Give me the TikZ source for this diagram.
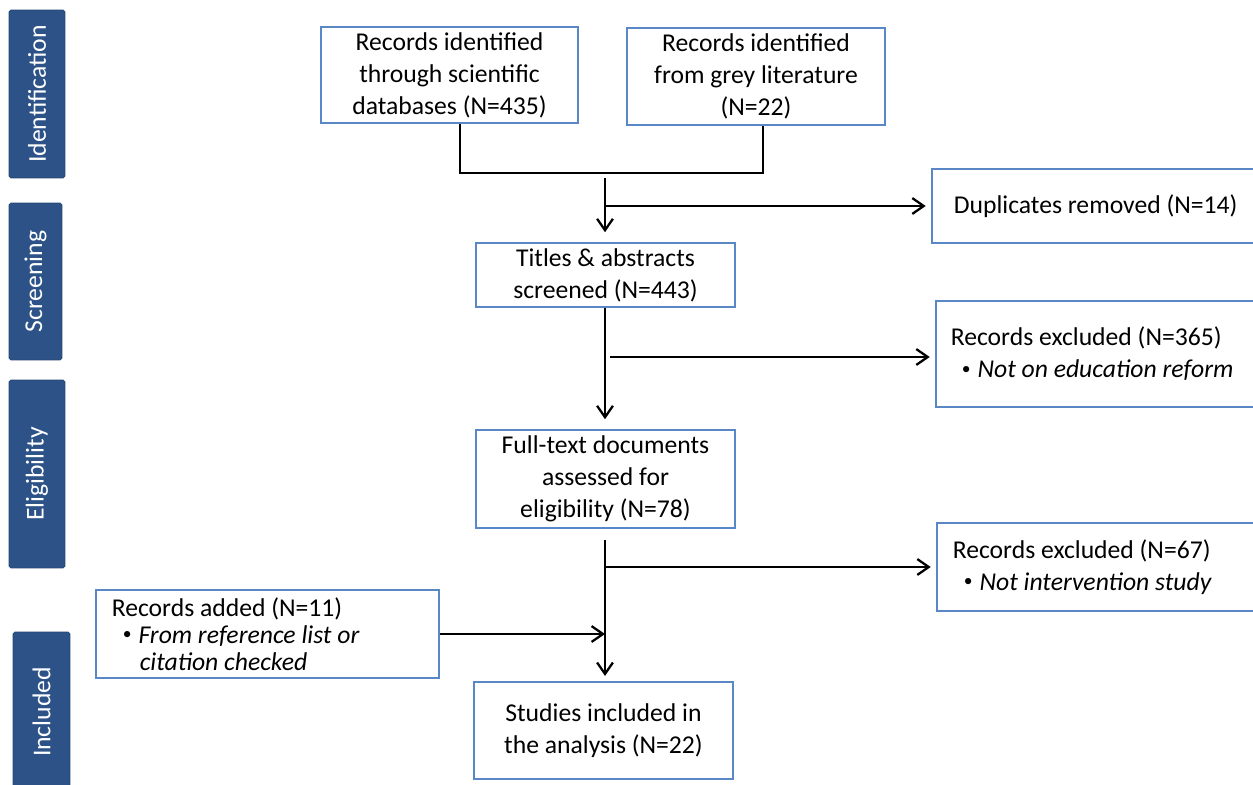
\documentclass[tikz,border=0pt]{standalone}
\usepackage{fontspec}
\setmainfont{Carlito}
\usetikzlibrary{arrows.meta,positioning}
\definecolor{stageblue}{HTML}{2C5287}
\definecolor{boxblue}{HTML}{5A88C6}
\tikzset{stagebar/.style={rectangle, rounded corners=1pt, draw=stageblue!85!black, fill=stageblue, text=white, rotate=90, inner sep=0pt, font=\fontsize{14.6}{18}\selectfont}}
\tikzset{flowbox/.style={rectangle, draw=boxblue, line width=0.9pt, inner sep=0pt, align=center, font=\fontsize{14.6}{18.2}\selectfont}}
\tikzset{sidebox/.style={flowbox, align=flush left, anchor=west, text width=6.4cm}}
\tikzset{flow/.style={draw, line width=1.3pt}}
\tikzset{arr/.style={flow, -{Straight Barb[length=6.5pt, width=9pt]}, shorten >=3pt}}
\newcommand\bul[1]{\hspace*{0.22cm}\raisebox{0.3ex}{\fontsize{10}{10}\selectfont\textbullet}\hspace{0.14cm}\textit{#1}}

\begin{document}
\begin{tikzpicture}[x=0.02cm, y=-0.02cm]%[scale=0.85]
		\useasboundingbox (0,0) rectangle (1253,784);
		
		\node[stagebar, minimum width=3.36cm, minimum height=1.12cm] (ident) at (37,94) {Identification};
		\node[stagebar, minimum width=3.14cm, minimum height=1.06cm] (screen) at (35.5,281.5) {Screening};
		\node[stagebar, minimum width=3.76cm, minimum height=1.12cm] (elig) at (37,474) {Eligibility};
		\node[stagebar, minimum width=3.20cm, minimum height=1.14cm] (incl) at (41.5,712) {Included};
		
		\node[flowbox, minimum width=5.14cm, minimum height=1.92cm] (recsci) at (449.5,75) {Records identified\\through scientific\\databases (N=435)};
		\node[flowbox, minimum width=5.16cm, minimum height=1.94cm] (recgrey) at (756,76.5) {Records identified\\from grey literature\\(N=22)};
		\node[flowbox, minimum width=5.18cm, minimum height=1.28cm] (titles) at (605.5,275) {Titles \& abstracts\\screened (N=443)};
		\node[flowbox, minimum width=5.18cm, minimum height=1.96cm] (fulltext) at (605.5,479) {Full-text documents\\assessed for\\eligibility (N=78)};
		\node[flowbox, minimum width=5.18cm, minimum height=1.94cm] (studies) at (603.5,730.5) {Studies included in\\the analysis (N=22)};
		
		\node[sidebox, inner xsep=0.44cm, minimum height=1.48cm] (dup) at (931,206) {Duplicates removed (N=14)};
		\node[sidebox, inner xsep=0.3cm, minimum height=2.12cm] (excl1) at (935,354) {Records excluded (N=365)\\\bul{Not on education reform}};
		\node[sidebox, inner xsep=0.32cm, minimum height=1.76cm] (excl2) at (936,567) {Records excluded (N=67)\\\bul{Not intervention study}};
		\node[sidebox, inner xsep=0.32cm, text width=6.22cm, minimum height=1.76cm, font=\fontsize{14.6}{15.4}\selectfont] (added) at (95,634) {Records added (N=11)\\\bul{From reference list or}\\\hspace*{0.56cm}\textit{citation checked}};
		
		\coordinate (merge) at (605,173);
		\coordinate (mergetop) at (605,178);
		\coordinate (dupfork) at (605,206);
		\coordinate (excl1fork) at (610,357);
		\coordinate (excl2fork) at (605,567);
		
		\draw[flow] ([xshift=0.21cm]recsci.south) |- (merge) -| ([xshift=0.14cm]recgrey.south);
		\draw[arr, shorten >=0.2cm] (mergetop) -- (titles.north -| mergetop);
		\draw[arr] (dupfork) -- (dup.west);
		
		\draw[arr, shorten >=0.2cm] (titles.south -| mergetop) -- (fulltext.north -| mergetop);
		\draw[arr] (excl1fork) -- (excl1.west |- excl1fork);
		
		\draw[arr] ([yshift=-0.22cm]fulltext.south -| mergetop) -- (studies.north -| mergetop);
		\draw[arr] (excl2fork) -- (excl2.west);
		\draw[arr, shorten >=0pt] (added.east) -- (added.east -| mergetop);
	\end{tikzpicture}
\end{document}
